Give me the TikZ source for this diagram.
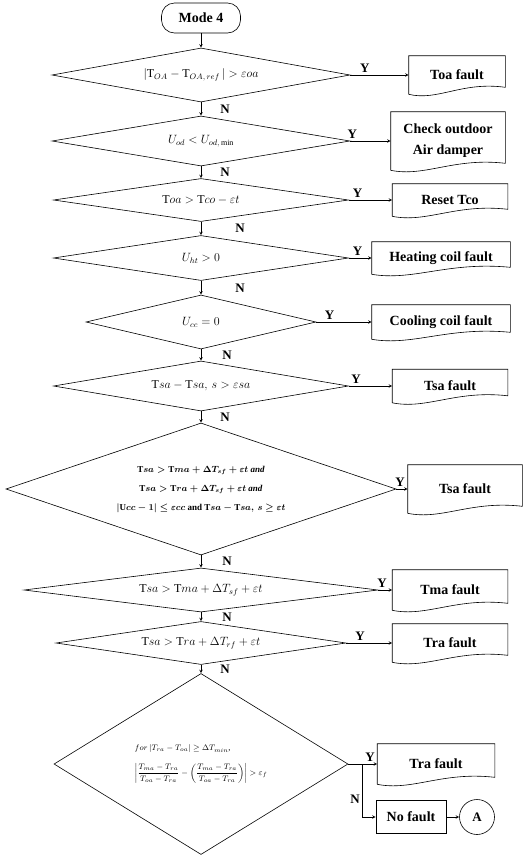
\documentclass[tikz,border=0pt]{standalone}
\usepackage{amsmath}
\usepackage{fontspec}
\setmainfont{Liberation Serif}
\usetikzlibrary{shapes.geometric,calc,positioning}

\newcommand{\boxfont}{\fontsize{14}{17}\selectfont\bfseries}
\newcommand{\ynfont}{\fontsize{13}{15}\selectfont\bfseries}
\newcommand{\condfont}{\fontsize{12}{15}\selectfont}

% fault box outline with a wavy lower edge
\newcommand{\docoutline}[1]{%
  \draw (#1.south west) -- (#1.north west) -- (#1.north east)
    -- ($(#1.south east)+(0,-7)$)
    .. controls ($(#1.south east)!0.45!(#1.south west)+(0,-13)$)
    and ($(#1.south east)!0.7!(#1.south west)+(0,7)$) .. (#1.south west);}

\tikzset{
  decision/.style n args={3}{diamond, draw, inner sep=0pt, font=\condfont,
    align=center, minimum width=#1, minimum height=#2, aspect=#3},
  faultbox/.style 2 args={rectangle, inner sep=0pt, font=\boxfont,
    align=center, minimum width=#1, minimum height=#2},
  yn/.style={font=\ynfont, inner sep=2pt},
}

\begin{document}
\begin{tikzpicture}[>=stealth, x=1pt, y=-1pt, line width=0.6pt]
    \useasboundingbox (0,0) rectangle (523,860);

    % Start node
    \node[draw, rectangle, rounded corners=13, minimum width=79,
          minimum height=30, font=\boxfont] (mode) at (201,18) {Mode 4};

    % Decision nodes
    \node[decision={298}{54}{5.52}] (d1) at (201,75)
        {$|\mathrm{T}_{OA}-\mathrm{T}_{OA,\,ref}\,| > \varepsilon oa$};
    \node[decision={298}{50}{5.96}] (d2) at (201,141)
        {$U_{od} < U_{od,\,\min}$};
    \node[decision={295}{43}{6.86}] (d3) at (201,200)
        {$\mathrm{T}oa > \mathrm{T}co - \varepsilon t$};
    \node[decision={295}{45}{6.56}] (d4) at (201,258)
        {$U_{ht} > 0$};
    \node[decision={230}{54}{4.26}] (d5) at (201,322)
        {$U_{cc} = 0$};
    \node[decision={295}{50}{5.9}] (d6) at (201,386)
        {$\mathrm{T}sa - \mathrm{T}sa,\, s > \varepsilon sa$};
    \node[decision={390}{132}{2.95}, font=\fontsize{9}{11}\selectfont\bfseries\boldmath]
        (d7) at (201,489)
        {$\mathrm{T}sa > \mathrm{T}ma + \Delta T_{sf} + \varepsilon t$ \textit{and}\\[8pt]
         $\mathrm{T}sa > \mathrm{T}ra + \Delta T_{sf} + \varepsilon t$ \textit{and}\\[8pt]
         $|\mathrm{U}cc - 1| \le \varepsilon cc$ and $\mathrm{T}sa - \mathrm{T}sa,\, s \ge \varepsilon t$};
    \node[decision={354}{44}{8.05}] (d8) at (201,590)
        {$\mathrm{T}sa > \mathrm{T}ma + \Delta T_{sf} + \varepsilon t$};
    \node[decision={290}{43}{6.74}] (d9) at (201,643)
        {$\mathrm{T}sa > \mathrm{T}ra + \Delta T_{rf} + \varepsilon t$};
    \node[decision={294}{181}{1.62}, align=left, font=\fontsize{8.5}{10}\selectfont]
        (d10) at (201,764)
        {$for\,|T_{ra}-T_{oa}| \ge \Delta T_{min}$,\\[10pt]
         $\biggl|\dfrac{T_{ma}-T_{ra}}{T_{oa}-T_{ra}}
          - \biggl(\dfrac{T_{ma}-T_{ra}}{T_{oa}-T_{ra}}\biggr)\biggr| > \varepsilon_f$};

    % Fault boxes
    \node[faultbox={96}{38}] (b1) at (457,75) {Toa fault};
    \node[faultbox={114}{58}] (b2) at (448,141) {Check outdoor\\[4pt]Air damper};
    \node[faultbox={115}{32}] (b3) at (450,200) {Reset Tco};
    \node[faultbox={138}{32}] (b4) at (441,258) {Heating coil fault};
    \node[faultbox={138}{34}] (b5) at (441,322) {Cooling coil fault};
    \node[faultbox={115}{33}] (b6) at (450,386) {Tsa fault};
    \node[faultbox={114}{48}] (b7) at (465,489) {Tsa fault};
    \node[faultbox={115}{40}] (b8) at (450,590) {Tma fault};
    \node[faultbox={115}{38}] (b9) at (450,643) {Tra fault};
    \node[faultbox={117}{40}] (b10) at (436,764) {Tra fault};
    \foreach \i in {1,...,10} {\docoutline{b\i}}

    % No fault and connector
    \node[draw, rectangle, minimum width=70, minimum height=33,
          font=\boxfont] (nofault) at (411,817) {No fault};
    \node[draw, circle, minimum size=35, inner sep=0pt, font=\ynfont] (A) at (477,817) {A};
    \coordinate (br) at (362,764);

    % N branches
    \draw[->] (mode) -- (d1);
    \draw[->] (d1) -- node[yn, right=17pt] {N} (d2);
    \draw[->] (d2) -- node[yn, right=17pt] {N} (d3);
    \draw[->] (d3) -- node[yn, right=32pt] {N} (d4);
    \draw[->] (d4) -- node[yn, right=32pt] {N} (d5);
    \draw[->] (d5) -- node[yn, right=19pt] {N} (d6);
    \draw[->] (d6) -- node[yn, right=17pt] {N} (d7);
    \draw[->] (d7) -- node[yn, right=19pt] {N} (d8);
    \draw[->] (d8) -- node[yn, right=19pt] {N} (d9);
    \draw[->] (d9) -- node[yn, right=17pt] {N} (d10);

    % Y branches
    \draw[->] (d1) -- node[yn, above, pos=0.25] {Y} (b1);
    \draw[->] (d2) -- node[yn, above, pos=0.05] {Y} (b2);
    \draw[->] (d3) -- node[yn, above, pos=0.2] {Y} (b3);
    \draw[->] (d4) -- node[yn, above, pos=0.38] {Y} (b4);
    \draw[->] (d5) -- node[yn, above, pos=0.24] {Y} (b5);
    \draw[->] (d6) -- node[yn, above, pos=0.17] {Y} (b6);
    \draw[->] (d7) -- node[yn, above, pos=0.33] {Y} (b7);
    \draw[->] (d8) -- node[yn, above, pos=0.27] {Y} (b8);
    \draw[->] (d9) -- node[yn, above, pos=0.3] {Y} (b9);
    \draw[->] (d10) -- node[yn, above, pos=0.75] {Y} (b10);
    \draw[->] (br) |- node[yn, left, pos=0.33] {N} (nofault);
    \draw[->] (nofault) -- (A);

\end{tikzpicture}
\end{document}
